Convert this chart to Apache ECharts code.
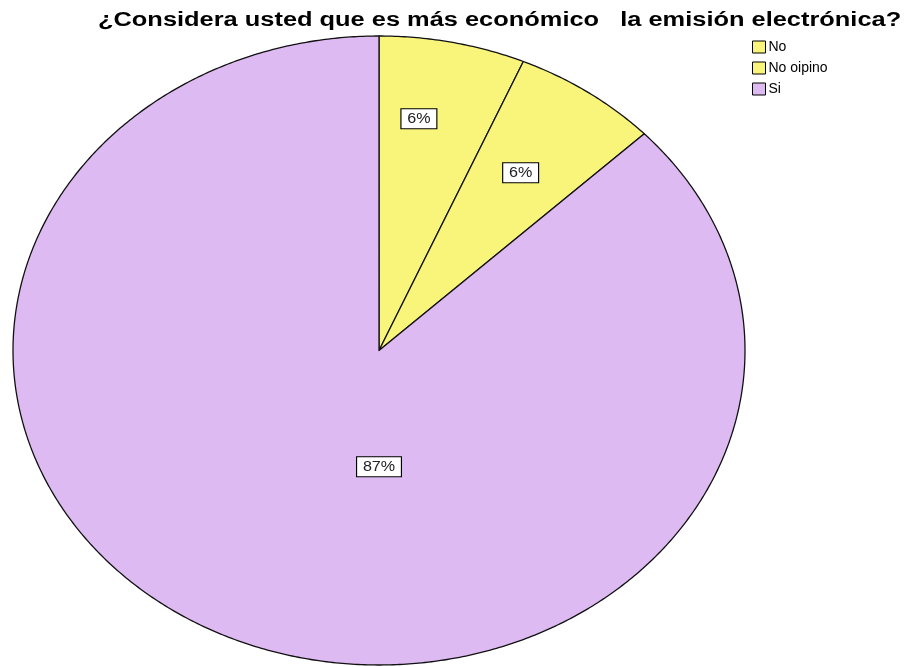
<!DOCTYPE html>
<html>
<head>
<meta charset="utf-8">
<script src="https://cdn.jsdelivr.net/npm/echarts@6/dist/echarts.min.js"></script>
<style>
html,body{margin:0;padding:0;background:#fff;}
#chart{width:904px;height:667px;}
</style>
</head>
<body>
<div id="chart"></div>
<script>
// ---- data ----
const categories = ['No', 'No oipino', 'Si'];
const counts = [2, 2, 27];
const titleText = '¿Considera usted que es más económico   la emisión electrónica?';

// ---- style config ----
const colors = ['#F8F57A', '#F8F57A', '#DEBAF2'];
// label anchors in normalized ellipse coordinates (x right, y up)
const labelAnchors = [[0.109, 0.737], [0.387, 0.565], [0, -0.37]];
const FONT = '"Liberation Sans", Arial, sans-serif';

const total = counts.reduce((a, b) => a + b, 0);

function makeRender(idx) {
  return function (params, api) {
    let before = 0;
    for (let k = 0; k < idx; k++) before += counts[k];
    const a0 = before / total * Math.PI * 2;
    const a1 = (before + counts[idx]) / total * Math.PI * 2;
    const pts = [api.coord([0, 0])];
    const steps = Math.max(2, Math.ceil((a1 - a0) / (Math.PI / 360)));
    for (let s = 0; s <= steps; s++) {
      const t = a0 + (a1 - a0) * s / steps;
      pts.push(api.coord([Math.sin(t), Math.cos(t)]));
    }
    const lp = api.coord(labelAnchors[idx]);
    const pct = Math.round(counts[idx] / total * 100) + '%';
    return {
      type: 'group',
      children: [
        {
          type: 'polygon',
          shape: { points: pts },
          style: { fill: colors[idx], stroke: '#111', lineWidth: 1.3, lineJoin: 'round' }
        },
        {
          type: 'text',
          x: lp[0], y: lp[1],
          scaleX: 1.15,
          z2: 10,
          style: {
            text: pct,
            font: '14px ' + FONT,
            fill: '#222',
            align: 'center',
            verticalAlign: 'middle',
            backgroundColor: '#fff',
            borderColor: '#000',
            borderWidth: 1,
            padding: [3, 5, 2, 5]
          }
        }
      ]
    };
  };
}

const chart = echarts.init(document.getElementById('chart'));
chart.setOption({
  animation: false,
  backgroundColor: '#fff',
  graphic: [{
    type: 'text',
    x: 98,
    y: 20,
    scaleX: 1.27,
    style: {
      text: titleText,
      font: 'bold 20px ' + FONT,
      fill: '#000',
      align: 'left',
      verticalAlign: 'middle'
    }
  }],
  legend: {
    orient: 'vertical',
    left: 747,
    top: 35,
    itemWidth: 13,
    itemHeight: 12,
    itemGap: 7,
    icon: 'rect',
    data: categories,
    textStyle: {
      fontFamily: FONT,
      fontSize: 14,
      color: '#000',
      padding: [0, 0, 0, -2]
    },
    itemStyle: { borderColor: '#000', borderWidth: 1 }
  },
  grid: { left: 13, top: 36, width: 732, height: 629 },
  xAxis: { type: 'value', min: -1, max: 1, show: false },
  yAxis: { type: 'value', min: -1, max: 1, show: false },
  series: categories.map((name, i) => ({
    type: 'custom',
    name: name,
    coordinateSystem: 'cartesian2d',
    itemStyle: { color: colors[i] },
    renderItem: makeRender(i),
    data: [[0, 0]]
  }))
});
</script>
</body>
</html>
